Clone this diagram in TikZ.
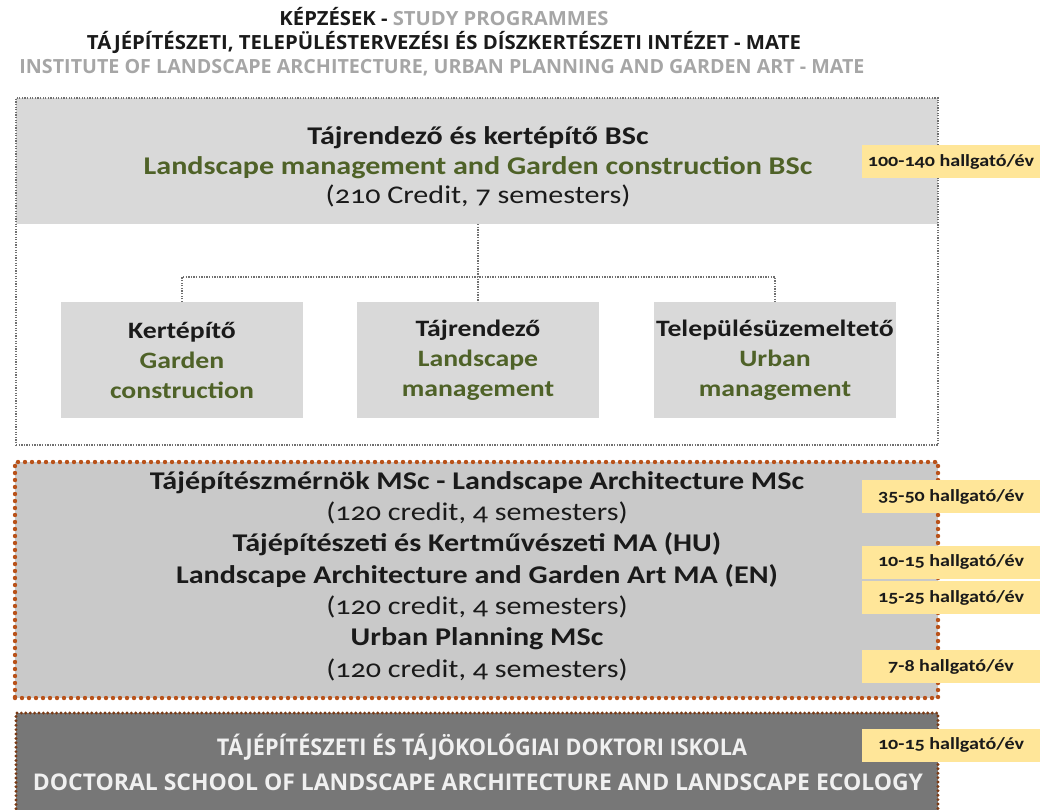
\documentclass[tikz,border=0pt]{standalone}
\usepackage{graphicx}
\usepackage{fontspec}
\setmainfont{Carlito}[FakeStretch=1.18, Numbers=OldStyle]
\newfontfamily\hdr{Open Sans}
\definecolor{hgray}{HTML}{D9D9D9}
\definecolor{mgray}{HTML}{C9C9C9}
\definecolor{dgray}{HTML}{777777}
\definecolor{tagc}{HTML}{FFE699}
\definecolor{tgray}{HTML}{A6A6A6}
\definecolor{grn}{HTML}{4F6228}
\definecolor{brn}{HTML}{B9521A}
\definecolor{dbrn}{HTML}{7B3A14}
\definecolor{frame}{HTML}{707070}
\definecolor{ink}{HTML}{1A1A1A}
\definecolor{ltxt}{HTML}{F0F0F0}
\newcommand\fw[2]{\resizebox{#1}{\height}{#2}}
\begin{document}
\begin{tikzpicture}[x=1pt,y=-1pt,
  every node/.style={inner sep=0pt, outer sep=0pt, text=ink},
  hdrline/.style={anchor=base, font=\hdr\bfseries\fontsize{19.5}{22}\selectfont},
  frm/.style={draw=frame, line width=1.3pt, dash pattern=on 1.3pt off 1.3pt},
  conn/.style={draw=frame, line width=1.5pt, dash pattern=on 1.3pt off 1.3pt},
  subbox/.style={fill=hgray, minimum width=242pt, minimum height=116pt},
  subtxt/.style={align=center, font=\bfseries\fontsize{23.5}{30}\selectfont},
  tagbox/.style={fill=tagc, minimum width=178pt, minimum height=33pt, font=\bfseries\fontsize{17}{18}\selectfont},
  brdot/.style={draw=brn, line width=4.4pt, line cap=round, dash pattern=on 0pt off 7pt},
  dbdot/.style={draw=dbrn, line width=3.2pt, line cap=round, dash pattern=on 0pt off 4.4pt},
  doctxt/.style={anchor=base, text=ltxt, font=\hdr\bfseries\fontsize{23}{26}\selectfont}
]
\useasboundingbox (0,0) rectangle (1043,809);
% title
\node[hdrline] (h1) at (444,25) {\fw{329pt}{KÉPZÉSEK - \textcolor{tgray}{STUDY PROGRAMMES}}};
\node[hdrline] (h2) at (444,49) {\fw{714pt}{TÁJÉPÍTÉSZETI, TELEPÜLÉSTERVEZÉSI ÉS DÍSZKERTÉSZETI INTÉZET - MATE}};
\node[hdrline, text=tgray] (h3) at (442,73) {\fw{845pt}{INSTITUTE OF LANDSCAPE ARCHITECTURE, URBAN PLANNING AND GARDEN ART - MATE}};
% BSc block
\node[fill=hgray, minimum width=922pt, minimum height=126pt, anchor=north west] (bsc) at (16,98) {};
\node[frm, minimum width=922pt, minimum height=347pt, anchor=north west] (bscframe) at (16,98) {};
\node[align=center, font=\fontsize{25.5}{29.5}\selectfont] (bsctxt) at (478,167)
  {\textbf{Tájrendező és kertépítő BSc}\\
   \textcolor{grn}{\textbf{Landscape management and Garden construction BSc}}\\
   (210 Credit, 7 semesters)};
\node[subbox] (kert) at (182,360) {};
\node[subbox] (tj) at (478,360) {};
\node[subbox] (tele) at (775,360) {};
\node[subtxt] (kerttxt) at (kert.center) {Kertépítő\\ \textcolor{grn}{Garden}\\ \textcolor{grn}{construction}};
\node[subtxt] (tjtxt) at (tj.center) {Tájrendező\\ \textcolor{grn}{Landscape}\\ \textcolor{grn}{management}};
\node[subtxt] (teletxt) at (tele.center) {Településüzemeltető\\ \textcolor{grn}{Urban}\\ \textcolor{grn}{management}};
\coordinate (jn) at (478,277);
\draw[conn] (tj.north |- bsc.south) -- (tj.north);
\draw[conn] (kert.north) -- (kert.north |- jn) -- (tele.north |- jn) -- (tele.north);
% MSc block
\node[fill=mgray, brdot, minimum width=923pt, minimum height=236pt] (msc) at (476.5,580) {};
\node[align=center, font=\fontsize{25.5}{31.3}\selectfont] (msctxt) at (477,576)
  {\textbf{Tájépítészmérnök MSc - Landscape Architecture MSc}\\
   (120 credit, 4 semesters)\\
   \textbf{Tájépítészeti és Kertművészeti MA (HU)}\\
   \textbf{Landscape Architecture and Garden Art MA (EN)}\\
   (120 credit, 4 semesters)\\
   \textbf{Urban Planning MSc}\\
   (120 credit, 4 semesters)};
% doctoral block
\node[fill=dgray, dbdot, minimum width=922pt, minimum height=115pt, anchor=north west] (phd) at (16,713) {};
\node[doctxt] (phd1) at (482,755) {\fw{530pt}{TÁJÉPÍTÉSZETI ÉS TÁJÖKOLÓGIAI DOKTORI ISKOLA}};
\node[doctxt] (phd2) at (478,790) {\fw{890pt}{DOCTORAL SCHOOL OF LANDSCAPE ARCHITECTURE AND LANDSCAPE ECOLOGY}};
% tags
\node[tagbox] (t1) at (951,161.5) {100-140 hallgató/év};
\node[tagbox] (t2) at (951,496.5) {35-50 hallgató/év};
\node[tagbox] (t3) at (951,562) {10-15 hallgató/év};
\node[tagbox] (t4) at (951,597.5) {15-25 hallgató/év};
\node[tagbox] (t5) at (951,666.5) {7-8 hallgató/év};
\node[tagbox] (t6) at (951,745) {10-15 hallgató/év};
\end{tikzpicture}
\end{document}
